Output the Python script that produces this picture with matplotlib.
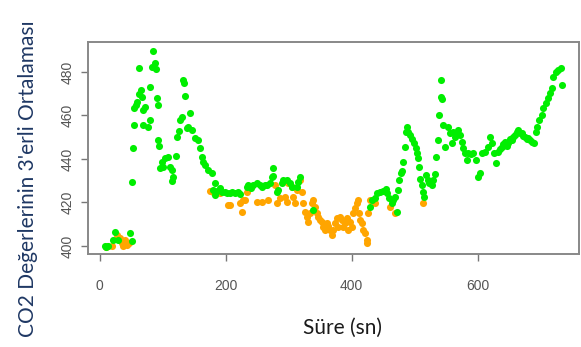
import matplotlib
matplotlib.use("Agg")
import matplotlib.pyplot as plt

# Green series (time in s, CO2 3-point moving average)
green_x = [8.7, 10.3, 14, 22, 24.6, 29.9, 48.4, 51.1, 51.1, 52.6, 54.8, 54.8, 57.9, 60.0,
           63.2, 63.2, 65.3, 66.9, 69.6, 68.5, 72.2, 77.5, 80.2, 80.2, 82.8, 85.4, 88.1,
           89.7, 91.8, 92.3, 93.4, 95.0, 96.0, 98.7, 104.0, 109.3, 101.3, 111.9, 114.5,
           117.2, 114.5, 121.4, 122.5, 126.2, 127.8, 130.4, 132.0, 134.1, 135.7, 143.6,
           138.4, 141.0, 146.3, 151.6, 156.9, 159.5, 162.2, 164.8, 167.5, 172.7, 178.0,
           183.3, 180.7, 183.3, 187.0, 191.3, 195.0, 199.2, 203.0, 207.1, 211.0, 215.0,
           219.0, 223.0, 233.6, 236.3, 240.0, 244.2, 249.4, 254.8, 258.0, 262.7, 265.3,
           270.6, 273.3, 274.9, 276.0, 281.2, 284.0, 289.0, 291.7, 297.0, 302.3, 306.0,
           313.0, 315.6, 318.2, 339.4, 429.4, 432.0, 437.3, 441.0, 445.2, 450.5, 454.8,
           456.9, 460.0, 463.7, 466.4, 469.0, 472.7, 474.3, 475.9, 478.6, 479.6, 482.3,
           484.9, 486.0, 487.6, 490.2, 492.8, 496.6, 499.2, 501.8, 503.4, 505.0, 507.1,
           508.7, 511.4, 514.0, 515.1, 518.2, 520.9, 523.5, 527.2, 529.9, 532.5, 534.1,
           537.8, 539.4, 541.5, 543.6, 542.1, 545.8, 548.4, 553.7, 556.3, 559.0, 561.6,
           564.3, 566.0, 569.6, 572.2, 574.9, 577.5, 580.2, 582.8, 585.4, 589.1, 593.4,
           597.6, 601.3, 604.0, 606.6, 611.9, 617.2, 619.8, 622.5, 626.7, 629.4, 633.1,
           636.0, 638.4, 641.0, 643.6, 646.0, 648.9, 651.0, 654.2, 657.0, 659.5, 662.0,
           664.8, 667.0, 670.1, 672.0, 675.4, 678.0, 680.7, 683.0, 686.0, 689.7, 692.9,
           695.0, 698.1, 701.8, 704.5, 708.2, 712.4, 715.1, 717.7, 720.4, 724.6, 728.3,
           732.0, 733.6]
green_y = [400.0, 399.7, 400.2, 402.7, 406.6, 402.7, 405.8, 402.4, 429.2, 444.9, 455.6, 463.3,
           464.8, 466.3, 482.0, 469.9, 471.7, 468.6, 462.5, 455.6, 464.0, 454.8, 457.9, 473.2,
           482.4, 489.8, 484.0, 481.2, 467.9, 464.8, 448.7, 446.0, 435.7, 438.7, 440.3, 441.0,
           436.5, 436.5, 434.9, 431.9, 430.0, 441.4, 450.2, 452.8, 457.9, 459.1, 476.3, 474.8,
           468.9, 461.0, 454.1, 454.8, 453.3, 449.5, 448.7, 444.9, 441.0, 438.7, 437.2, 434.9,
           433.7, 428.8, 425.7, 423.4, 425.5, 426.5, 424.8, 425.0, 424.5, 424.2, 425.0, 424.2,
           424.6, 423.9, 427.3, 428.0, 426.5, 428.0, 428.8, 428.0, 427.0, 428.0, 428.0, 428.8,
           431.9, 436.0, 432.0, 425.0, 425.7, 428.8, 430.3, 430.3, 428.8, 427.0, 427.3, 429.6,
           431.9, 416.5, 418.1, 421.1, 421.9, 424.2, 425.0, 425.4, 426.0, 424.2, 421.9, 419.6,
           421.1, 422.7, 415.8, 425.7, 430.3, 433.4, 434.6, 438.8, 445.7, 452.6, 454.9, 452.6,
           451.0, 449.0, 447.2, 444.9, 442.6, 440.3, 436.5, 430.6, 428.0, 425.0, 422.7, 432.6,
           430.3, 428.8, 428.0, 430.3, 433.1, 441.1, 448.7, 460.2, 468.6, 467.4, 476.3, 455.6,
           445.7, 454.9, 451.8, 447.2, 452.6, 450.3, 451.5, 453.3, 451.0, 448.0, 444.9, 442.6,
           439.5, 442.6, 442.3, 442.6, 439.5, 431.9, 433.4, 442.6, 443.4, 445.7, 450.3, 447.2,
           442.6, 438.0, 443.4, 444.5, 445.7, 447.0, 448.0, 446.0, 447.2, 449.0, 448.7, 450.0,
           451.0, 452.5, 453.3, 452.0, 451.8, 450.5, 450.3, 449.0, 449.5, 448.5, 448.0, 447.2,
           452.6, 454.9, 457.9, 460.2, 463.3, 465.6, 467.9, 470.2, 472.5, 477.9, 480.1, 480.9,
           481.7, 474.0]

# Orange series
orange_x = [10.3, 11.4, 19.3, 27.2, 32.5, 35.2, 36.8, 40.5, 43.0, 47.3, 175.4, 180.7, 191.3,
            204.5, 207.0, 223.0, 225.6, 228.3, 231.0, 234.6, 249.4, 257.4, 268.0, 278.6,
            281.3, 286.5, 294.4, 297.0, 299.7, 305.0, 307.7, 310.3, 313.0, 318.2, 320.9,
            323.5, 326.2, 328.8, 331.5, 334.1, 336.8, 339.4, 342.1, 344.7, 347.3, 350.0,
            352.6, 355.3, 357.9, 360.6, 363.0, 365.9, 368.5, 371.2, 373.8, 376.4, 379.1,
            381.7, 384.4, 387.0, 390.0, 392.3, 395.0, 397.6, 400.3, 402.9, 405.5, 408.2,
            410.8, 412.4, 413.5, 416.1, 418.8, 421.4, 424.1, 425.1, 426.7, 429.4, 434.6,
            437.3, 461.1, 469.0, 514.0]
orange_y = [399.7, 400.0, 400.0, 405.0, 403.5, 401.2, 400.0, 402.7, 400.4, 401.5, 425.4, 424.9,
            424.2, 418.8, 418.8, 419.6, 415.8, 421.1, 421.1, 425.0, 420.4, 420.4, 421.1, 428.0,
            419.6, 421.9, 422.7, 420.4, 428.8, 427.3, 422.7, 419.6, 425.7, 430.3, 425.0,
            419.6, 415.8, 413.5, 411.2, 415.0, 419.6, 421.1, 418.1, 415.0, 413.5, 411.9,
            411.2, 408.9, 407.3, 410.4, 409.0, 407.3, 405.0, 407.3, 410.4, 412.7, 408.9,
            413.5, 411.9, 408.9, 410.5, 412.7, 407.3, 411.2, 408.9, 415.0, 417.3, 419.6,
            421.1, 415.0, 411.9, 410.4, 407.3, 405.8, 402.7, 401.2, 415.0, 421.1, 421.1,
            419.6, 418.1, 415.0, 419.6]

x_ticks = [0, 200, 400, 600]
y_ticks = [400, 420, 440, 460, 480]
x_label = "Süre (sn)"
y_label = "CO2 Değerlerinin 3'erli Ortalaması"

fig = plt.figure(figsize=(5.81, 3.47), dpi=100)
ax = fig.add_axes([0.1515, 0.268, 0.845, 0.611])

ax.scatter(orange_x, orange_y, s=26, color="#FFA500", linewidths=0, zorder=2)
ax.scatter(green_x, green_y, s=26, color="#00EE00", linewidths=0, zorder=3)

ax.set_xlim(-18.3, 761)
ax.set_ylim(396.3, 493.8)
ax.set_xticks(x_ticks)
ax.set_yticks(y_ticks)

tick_color = "#555555"
ax.tick_params(axis="both", direction="out", length=5, width=1, color="#777777",
               labelcolor=tick_color, labelsize=10)
for lbl in ax.get_xticklabels() + ax.get_yticklabels():
    lbl.set_fontfamily("Liberation Sans")
for lbl in ax.get_yticklabels():
    lbl.set_rotation(90)
    lbl.set_va("center")
ax.tick_params(axis="x", pad=13)
ax.tick_params(axis="y", pad=5)

for sp in ax.spines.values():
    sp.set_color("#888888")
    sp.set_linewidth(1.4)

fig.text(0.59, 0.055, x_label, ha="center", va="center", fontsize=15,
         family="Lato", color="#1a1a1a")
fig.text(0.048, 0.485, y_label, ha="center", va="center", rotation=90, fontsize=15,
         family="Lato", color="#1F3864")

fig.savefig("out.png", dpi=100)
